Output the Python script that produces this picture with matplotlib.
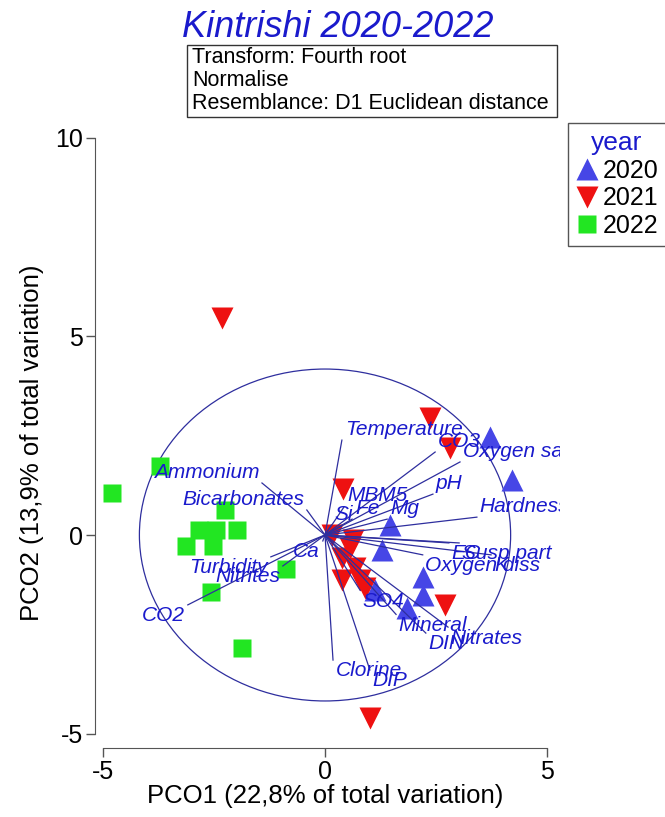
import matplotlib
matplotlib.use("Agg")
import matplotlib.pyplot as plt
from matplotlib.lines import Line2D
from matplotlib.patches import Circle, Rectangle

plt.rcParams['font.family'] = ['Liberation Sans', 'DejaVu Sans']
plt.rcParams['axes.unicode_minus'] = False

# sample scores (PCO1, PCO2) by year
x_2020 = [3.72, 4.21, 1.46, 1.28, 2.21, 2.21, 1.85, 1.13]
y_2020 = [2.47, 1.39, 0.25, -0.38, -1.06, -1.51, -1.84, -1.39]

x_2021 = [-2.32, 2.36, 2.82, 0.41, 0.16, 0.63, 0.56, 0.38, 0.68, 0.38, 0.79, 0.90, 2.70, 1.01]
y_2021 = [5.47, 2.95, 2.19, 1.16, 0.00, -0.13, -0.33, -0.58, -0.83, -1.13, -1.13, -1.34, -1.76, -4.61]

x_2022 = [-4.80, -3.72, -2.25, -2.84, -2.45, -1.98, -3.13, -2.52, -2.57, -0.88, -1.87]
y_2022 = [1.06, 1.74, 0.63, 0.13, 0.13, 0.13, -0.28, -0.28, -1.44, -0.86, -2.85]

# vector overlay (end points)
var_names = ['Temperature', 'CO3', 'Oxygen sat', 'pH', 'Hardness', 'MBM5', 'Fe', 'Mg', 'Si',
             'EC', 'Susp part', 'Oxygen diss', 'K', 'SO4', 'Mineral', 'DIN', 'Nitrates',
             'Clorine', 'DIP', 'Ammonium', 'Bicarbonates', 'Ca', 'Turbidity', 'Nitrites', 'CO2']
var_x = [0.38, 2.48, 3.04, 2.43, 3.42, 0.43, 0.61, 1.40, 0.14,
         2.79, 3.02, 2.20, 3.74, 0.79, 1.60, 2.27, 2.77,
         0.18, 1.01, -1.42, -0.41, -0.05, -1.22, -0.95, -3.09]
var_y = [2.39, 2.09, 1.84, 1.03, 0.45, 0.71, 0.40, 0.40, 0.25,
         -0.20, -0.20, -0.50, -0.50, -1.39, -2.00, -2.47, -2.32,
         -3.15, -3.40, 1.31, 0.63, -0.15, -0.55, -0.78, -1.76]
circle_r = 4.18

blue = '#4646e6'
red = '#ee1111'
green = '#22e622'
txt_blue = '#1a1acc'
vec_col = '#2e2e9e'

fig = plt.figure(figsize=(6.65, 8.17), dpi=100)
ax = fig.add_axes([0.1355, 0.0803, 0.7065, 0.7557])

ax.plot(x_2020, y_2020, '^', color=blue, ms=16, mec='none', clip_on=False)
ax.plot(x_2021, y_2021, 'v', color=red, ms=16, mec='none', clip_on=False)
ax.plot(x_2022, y_2022, 's', color=green, ms=13, mec='none', clip_on=False)

ax.add_patch(Circle((0, 0), circle_r, fill=False, ec=vec_col, lw=0.9))
for name, vx, vy in zip(var_names, var_x, var_y):
    ax.plot([0, vx], [0, vy], color=vec_col, lw=0.9)
    ha = 'left' if vx >= 0 else 'right'
    va = 'bottom' if vy >= 0 else 'top'
    ax.annotate(name, (vx, vy), xytext=(2 if vx >= 0 else -2, 1 if vy >= 0 else -1),
                textcoords='offset points', ha=ha, va=va, fontsize=15,
                style='italic', color=txt_blue, clip_on=True)

ax.set_xlim(-5.29, 5.29)
ax.set_ylim(-5.45, 10.1)
ax.set_xticks([-5, 0, 5])
ax.set_yticks([-5, 0, 5, 10])
for s in ['top', 'right']:
    ax.spines[s].set_visible(False)
ax.spines['left'].set_position(('data', -5.18))
ax.spines['bottom'].set_position(('data', -5.37))
ax.spines['left'].set_bounds(-5, 10)
ax.spines['bottom'].set_bounds(-5, 5)
for s in ['left', 'bottom']:
    ax.spines[s].set_color('#555555')
ax.tick_params(length=6.5, width=1, color='#555555', labelsize=18, pad=2)
ax.set_xlabel('PCO1 (22,8% of total variation)', fontsize=18.5, labelpad=0)
ax.set_ylabel('PCO2 (13,9% of total variation)', fontsize=18.5, labelpad=8)

fig.text(0.508, 0.966, 'Kintrishi 2020-2022', fontsize=26, style='italic',
         color=txt_blue, ha='center', va='center')
fig.add_artist(Rectangle((0.2812, 0.8568), 0.5564, 0.0881, transform=fig.transFigure,
                         fill=False, ec='#333333', lw=1))
for i, line in enumerate(['Transform: Fourth root', 'Normalise',
                          'Resemblance: D1 Euclidean distance']):
    fig.text(0.2887, 0.9302 - i * 0.0282, line, fontsize=15.5, ha='left', va='center')

handles = [Line2D([], [], ls='none', marker='^', color=blue, ms=16, mec='none'),
           Line2D([], [], ls='none', marker='v', color=red, ms=16, mec='none'),
           Line2D([], [], ls='none', marker='s', color=green, ms=13, mec='none')]
leg = ax.legend(handles, ['2020', '2021', '2022'], title='year', loc='upper left',
                bbox_to_anchor=(0.854, 0.849), bbox_transform=fig.transFigure,
                fancybox=False, edgecolor='#555555', framealpha=1, fontsize=18,
                title_fontsize=19, handlelength=0.9, handletextpad=0.2,
                borderpad=0.3, labelspacing=0.15, borderaxespad=0)
leg.get_title().set_color(txt_blue)
leg.get_frame().set_linewidth(1)

fig.savefig('out.png', dpi=100)
